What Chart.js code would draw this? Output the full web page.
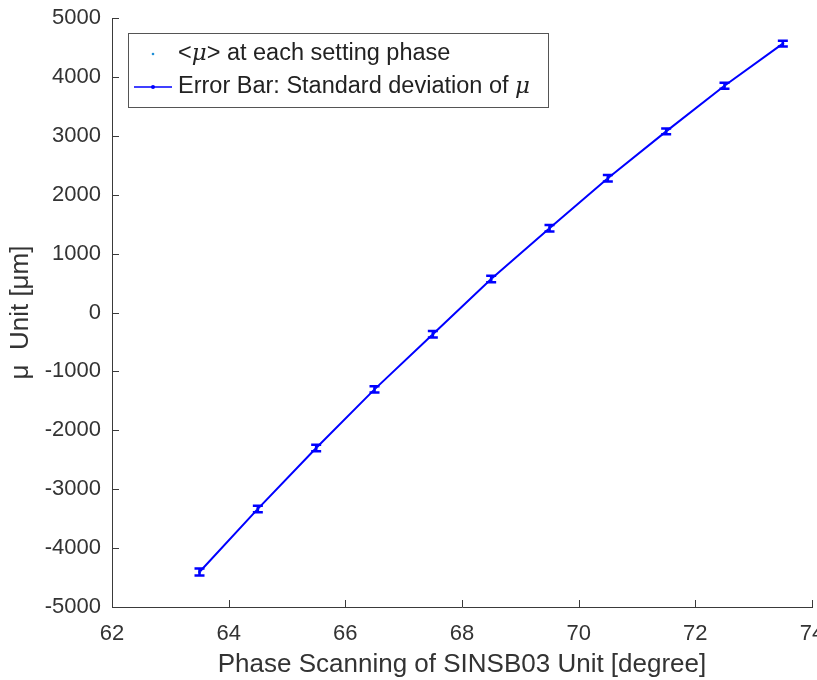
<!DOCTYPE html>
<html>
<head>
<meta charset="utf-8">
<script src="https://cdn.jsdelivr.net/npm/chart.js@4.4.1/dist/chart.umd.min.js"></script>
<style>
  html, body { margin: 0; padding: 0; background: #fff; }
</style>
</head>
<body>
<canvas id="phaseChart" width="817" height="680"></canvas>
<script>
// phase settings (degree) and measured mean / std of mu (um)
const phaseValues = [63.5, 64.5, 65.5, 66.5, 67.5, 68.5, 69.5, 70.5, 71.5, 72.5, 73.5];
const muMeans = [-4405, -3335, -2300, -1305, -370, 570, 1430, 2280, 3075, 3850, 4565];
const muStds = [60, 55, 55, 55, 55, 55, 55, 55, 50, 50, 50];
const xTicks = [62, 64, 66, 68, 70, 72, 74];
const yTicks = [-5000, -4000, -3000, -2000, -1000, 0, 1000, 2000, 3000, 4000, 5000];

const textColor = '#333333';
const axisColor = '#3a3a3a';
const fontFamily = '"Liberation Sans", Arial, sans-serif';

const points = phaseValues.map((x, i) => ({ x: x, y: muMeans[i] }));

// error bars drawn from the data through the scales
const errorBarPlugin = {
    id: 'errorBars',
    afterDatasetsDraw(chart) {
        const { ctx, scales: { x, y } } = chart;
        ctx.save();
        ctx.strokeStyle = '#0000ff';
        ctx.lineWidth = 2.5;
        phaseValues.forEach((px, i) => {
            const cx = x.getPixelForValue(px);
            const top = y.getPixelForValue(muMeans[i] + muStds[i]);
            const bot = y.getPixelForValue(muMeans[i] - muStds[i]);
            ctx.beginPath();
            ctx.moveTo(cx, top); ctx.lineTo(cx, bot);
            ctx.moveTo(cx - 5, top); ctx.lineTo(cx + 5, top);
            ctx.moveTo(cx - 5, bot); ctx.lineTo(cx + 5, bot);
            ctx.stroke();
        });
        ctx.restore();
    }
};

// inward ticks like the original axes
const innerTicksPlugin = {
    id: 'innerTicks',
    afterDraw(chart) {
        const { ctx, chartArea: a, scales: { x, y } } = chart;
        ctx.save();
        ctx.strokeStyle = axisColor;
        ctx.lineWidth = 1;
        ctx.beginPath();
        xTicks.forEach(v => {
            const px = Math.round(x.getPixelForValue(v)) + 0.5;
            ctx.moveTo(px, a.bottom); ctx.lineTo(px, a.bottom - 7);
        });
        yTicks.forEach(v => {
            const py = Math.round(y.getPixelForValue(v)) + 0.5;
            ctx.moveTo(a.left, py); ctx.lineTo(a.left + 7, py);
        });
        ctx.stroke();
        ctx.restore();
    }
};

// legend box in the top-left corner of the plot
const legendBoxPlugin = {
    id: 'legendBox',
    afterDraw(chart) {
        const { ctx } = chart;
        ctx.save();
        ctx.fillStyle = '#fff';
        ctx.strokeStyle = '#555';
        ctx.lineWidth = 1;
        ctx.fillRect(128.5, 33.5, 420, 74);
        ctx.strokeRect(128.5, 33.5, 420, 74);

        ctx.fillStyle = '#1f8fd6';
        ctx.beginPath(); ctx.arc(153, 54, 1.3, 0, Math.PI * 2); ctx.fill();

        ctx.strokeStyle = '#0000ff';
        ctx.lineWidth = 1.5;
        ctx.beginPath(); ctx.moveTo(134, 87); ctx.lineTo(172, 87); ctx.stroke();
        ctx.fillStyle = '#0000ff';
        ctx.beginPath(); ctx.arc(153, 87, 2, 0, Math.PI * 2); ctx.fill();

        ctx.fillStyle = '#222';
        ctx.textBaseline = 'middle';
        const f = '23.5px ' + fontFamily;
        const fi = 'italic 23px "DejaVu Serif", serif';
        let tx = 178;
        ctx.font = f; ctx.fillText('<', tx, 54); tx += ctx.measureText('<').width;
        ctx.font = fi; ctx.fillText('μ', tx, 54); tx += ctx.measureText('μ').width;
        ctx.font = f; ctx.fillText('> at each setting phase', tx, 54);
        ctx.fillText('Error Bar: Standard deviation of ', 178, 87);
        const w = ctx.measureText('Error Bar: Standard deviation of ').width;
        ctx.font = fi; ctx.fillText('μ', 178 + w, 87);
        ctx.restore();
    }
};

new Chart(document.getElementById('phaseChart'), {
    type: 'scatter',
    data: {
        datasets: [{
            label: '<μ> at each setting phase',
            data: points,
            showLine: false,
            pointRadius: 1.5,
            pointBackgroundColor: '#1f8fd6',
            pointBorderWidth: 0
        }, {
            label: 'Error Bar: Standard deviation of μ',
            data: points,
            showLine: true,
            borderColor: '#0000ff',
            borderWidth: 2,
            pointRadius: 0,
            tension: 0
        }]
    },
    options: {
        responsive: false,
        animation: false,
        layout: { padding: { top: 18, right: 5, left: 0, bottom: 0 } },
        plugins: {
            legend: { display: false },
            tooltip: { enabled: false }
        },
        scales: {
            x: {
                type: 'linear',
                min: 62,
                max: 74,
                afterBuildTicks: s => { s.ticks = xTicks.map(v => ({ value: v })); },
                afterFit: s => { s.height = 73; s.paddingRight = 0; s.paddingLeft = 0; },
                grid: { display: false, drawTicks: false },
                border: { display: true, color: axisColor, width: 1 },
                ticks: {
                    color: textColor, font: { family: fontFamily, size: 22 }, padding: 14, maxRotation: 0,
                    callback: v => String(v)
                },
                title: {
                    display: true,
                    text: 'Phase Scanning of SINSB03 Unit [degree]',
                    color: textColor,
                    font: { family: fontFamily, size: 26 },
                    padding: { top: 0, bottom: 0 }
                }
            },
            y: {
                type: 'linear',
                min: -5000,
                max: 5000,
                afterBuildTicks: s => { s.ticks = yTicks.map(v => ({ value: v })); },
                afterFit: s => { s.width = 112; s.paddingTop = 0; s.paddingBottom = 0; },
                grid: { display: false, drawTicks: false },
                border: { display: true, color: axisColor, width: 1 },
                ticks: {
                    color: textColor, font: { family: fontFamily, size: 22 }, padding: 11,
                    callback: v => String(v)
                },
                title: {
                    display: true,
                    text: 'μ  Unit [μm]',
                    color: textColor,
                    font: { family: fontFamily, size: 26 },
                    padding: { top: 5, bottom: 0 }
                }
            }
        }
    },
    plugins: [errorBarPlugin, innerTicksPlugin, legendBoxPlugin]
});
</script>
</body>
</html>
